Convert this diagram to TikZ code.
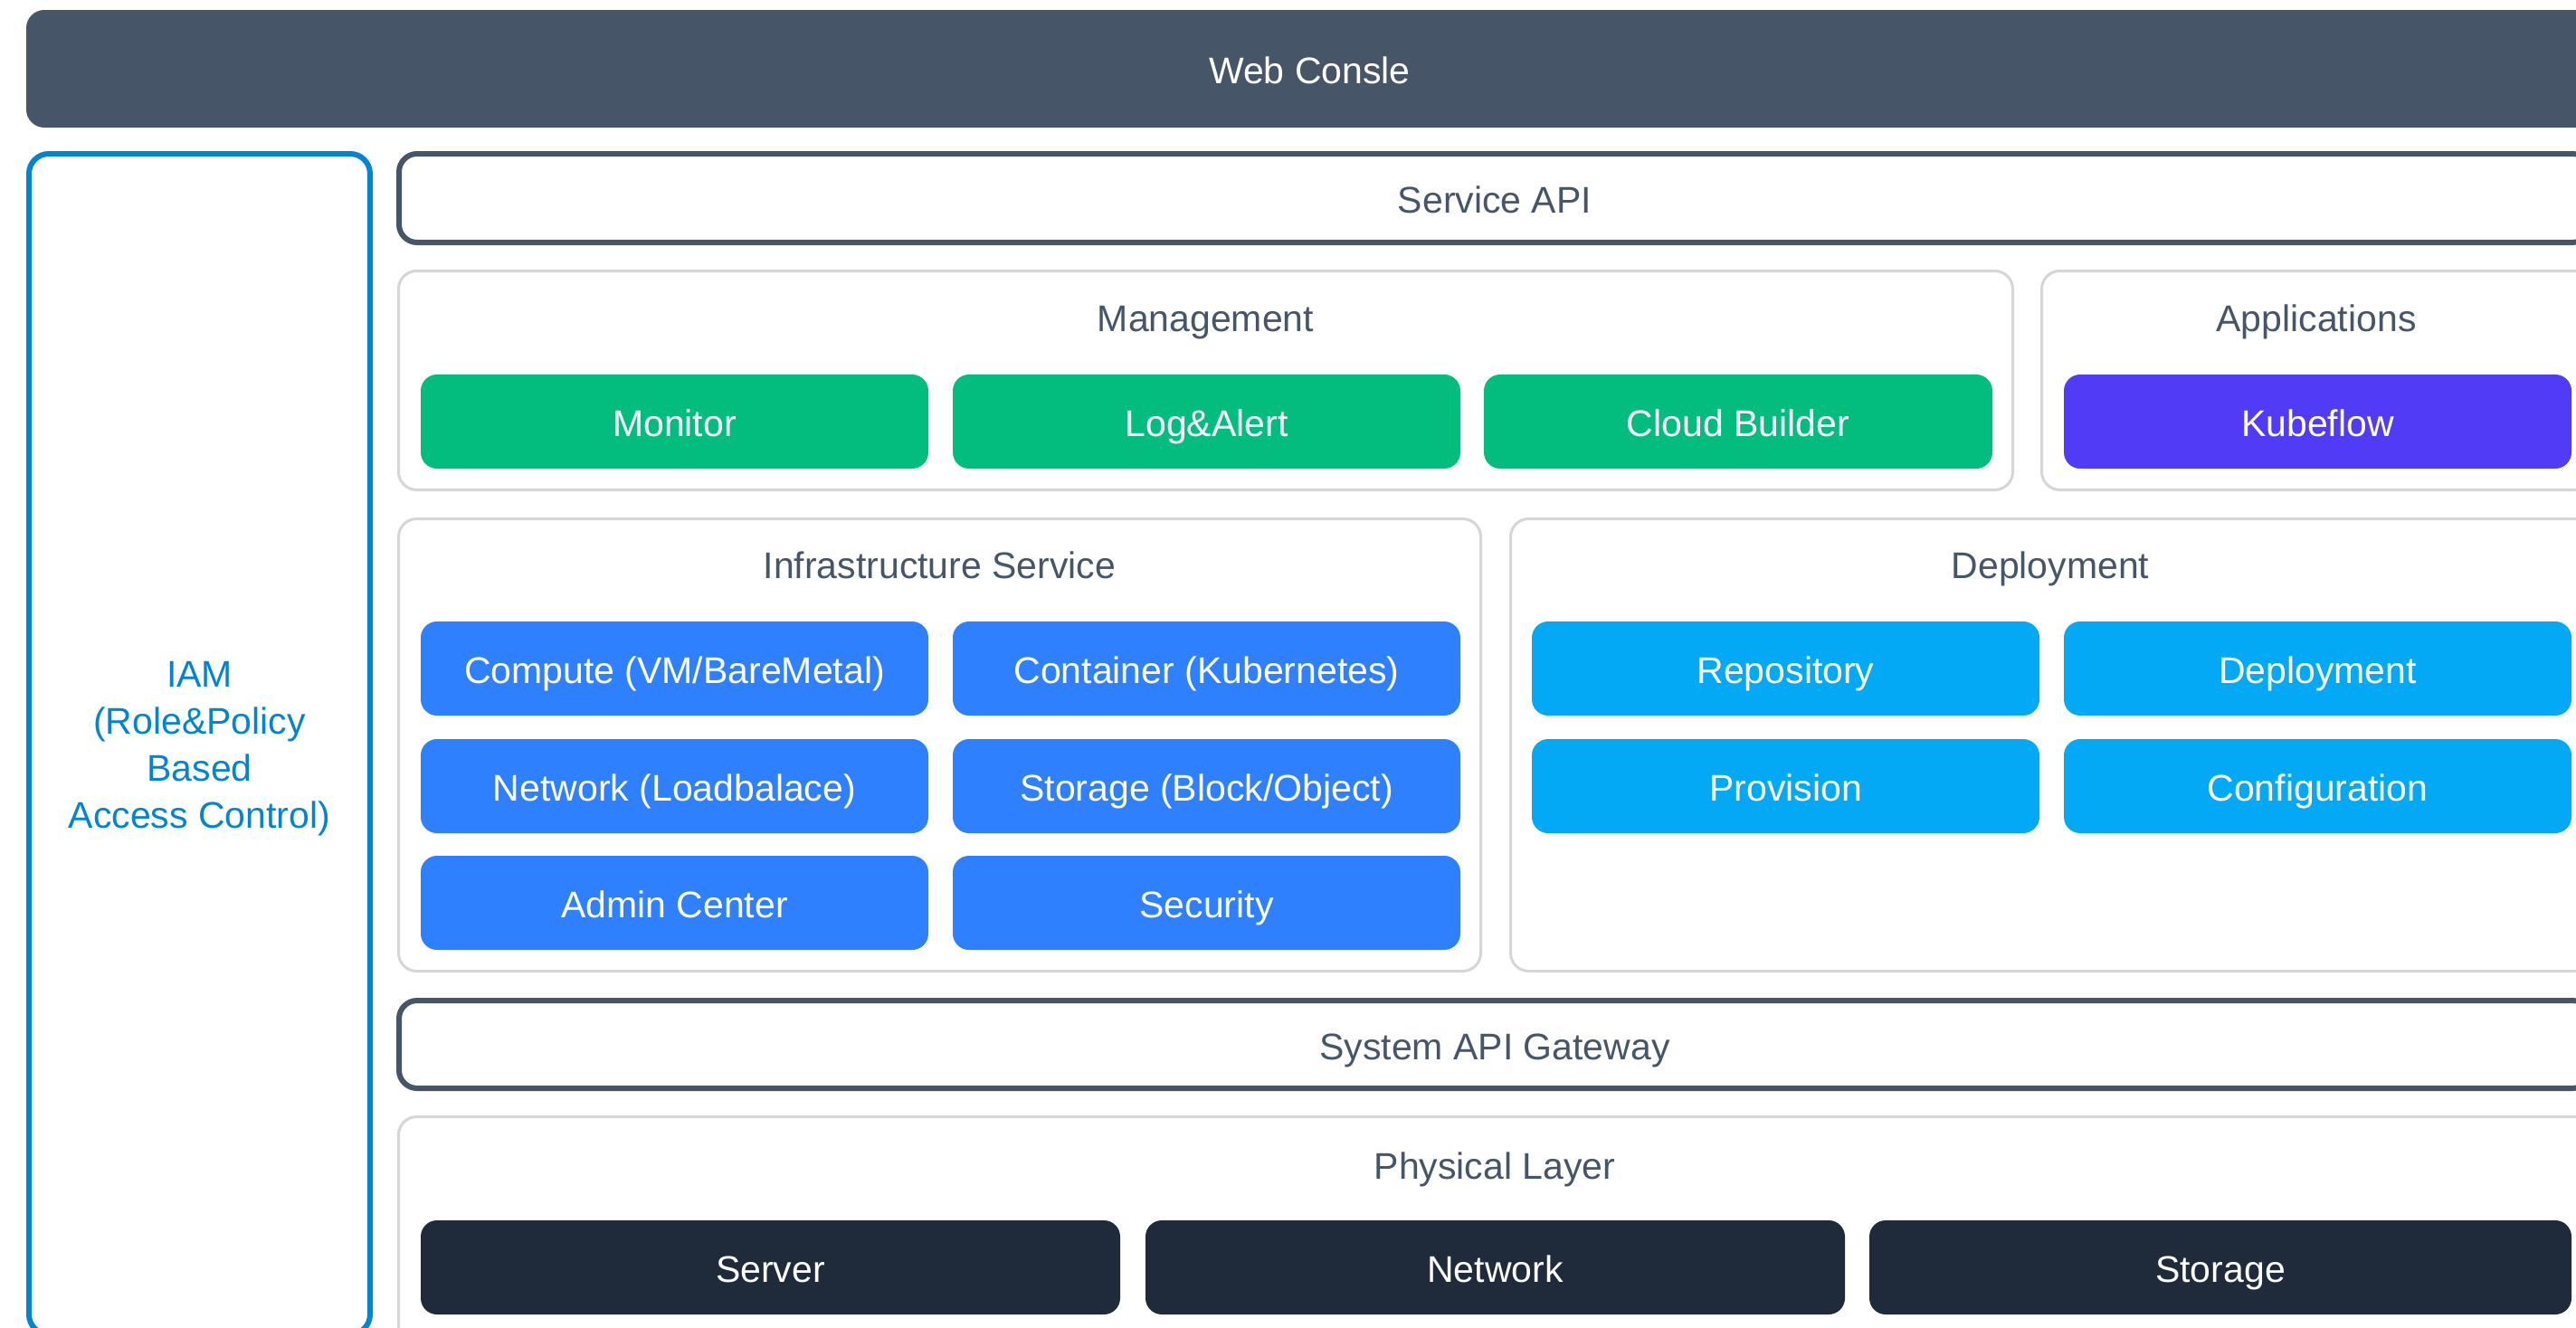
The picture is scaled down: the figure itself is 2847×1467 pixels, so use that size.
\documentclass[tikz,border=0pt]{standalone}
\usepackage{fontspec}
\setmainfont{Liberation Sans}
\definecolor{slate}{HTML}{475569}
\definecolor{iamblue}{HTML}{0284D4}
\definecolor{lightgray}{HTML}{D6D6D6}
\definecolor{mgreen}{HTML}{03BD7F}
\definecolor{kpurple}{HTML}{503BF6}
\definecolor{iblue}{HTML}{2F80FE}
\definecolor{dsky}{HTML}{03A9F4}
\definecolor{pdark}{HTML}{1F2A3B}
\newcommand\blk[7]{\node[#6, minimum width={#4-#2}, minimum height={#5-#3}] (#1) at ({(#2+#4)/2},{(#3+#5)/2}) {#7};}
\begin{document}
\begin{tikzpicture}[x=1pt,y=-1pt,
  every node/.style={inner sep=0pt, outer sep=0pt, font=\fontsize{41}{52}\selectfont},
  webbar/.style={rectangle, fill=slate, rounded corners=20pt, text=white, text height=33pt, text depth=0pt},
  iambox/.style={rectangle, draw=iamblue, line width=6pt, rounded corners=22pt},
  apibox/.style={rectangle, draw=slate, line width=6pt, rounded corners=20pt, text=slate, text height=33pt, text depth=0pt},
  group/.style={rectangle, draw=lightgray, line width=3pt, rounded corners=20pt},
  heading/.style={text=slate, text height=33pt, text depth=0pt},
  btn/.style={rectangle, rounded corners=18pt, text=white, text height=33pt, text depth=0pt},
  greenbtn/.style={btn, fill=mgreen},
  purplebtn/.style={btn, fill=kpurple},
  bluebtn/.style={btn, fill=iblue},
  skybtn/.style={btn, fill=dsky},
  darkbtn/.style={btn, fill=pdark}]
\useasboundingbox (0,0) rectangle (2847,1467);
\clip (0,0) rectangle (2847,1467);
\fill[white] (0,0) rectangle (2847,1467);
% top bar
\blk{web}{29}{11}{2866}{141}{webbar}{Web Consle}
% IAM
\blk{iam}{32}{170}{409}{1475}{iambox}{}
\node[text=iamblue, align=center] (iamtext) at (220.5,828) {IAM\\(Role\&Policy\\Based\\Access Control)};
% Service API
\blk{sapi}{441}{170}{2863}{268}{apibox}{Service API}
% Management
\blk{mgmt}{440.5}{299.5}{2224.5}{541.5}{group}{}
\node[heading] (mgmth) at (1332.5,350) {Management};
\blk{monitor}{465}{414}{1026}{518}{greenbtn}{Monitor}
\blk{logalert}{1053}{414}{1614}{518}{greenbtn}{Log\&Alert}
\blk{cloudb}{1640}{414}{2202}{518}{greenbtn}{Cloud Builder}
% Applications
\blk{apps}{2256.5}{299.5}{2864.5}{541.5}{group}{}
\node[heading] (appsh) at (2560,350) {Applications};
\blk{kubeflow}{2281}{414}{2842}{518}{purplebtn}{Kubeflow}
% Infrastructure Service
\blk{infra}{440.5}{573.5}{1636.5}{1073.5}{group}{}
\node[heading] (infrah) at (1038.5,623) {Infrastructure Service};
\blk{compute}{465}{687}{1026}{791}{bluebtn}{Compute (VM/BareMetal)}
\blk{container}{1053}{687}{1614}{791}{bluebtn}{Container (Kubernetes)}
\blk{inet}{465}{817}{1026}{921}{bluebtn}{Network (Loadbalace)}
\blk{istor}{1053}{817}{1614}{921}{bluebtn}{Storage (Block/Object)}
\blk{admin}{465}{946}{1026}{1050}{bluebtn}{Admin Center}
\blk{security}{1053}{946}{1614}{1050}{bluebtn}{Security}
% Deployment
\blk{deploy}{1669.5}{573.5}{2864.5}{1073.5}{group}{}
\node[heading] (deployh) at (2266,623) {Deployment};
\blk{repo}{1693}{687}{2254}{791}{skybtn}{Repository}
\blk{deploybtn}{2281}{687}{2842}{791}{skybtn}{Deployment}
\blk{provision}{1693}{817}{2254}{921}{skybtn}{Provision}
\blk{config}{2281}{817}{2842}{921}{skybtn}{Configuration}
% System API Gateway
\blk{sysapi}{441}{1106}{2863}{1203}{apibox}{System API Gateway}
% Physical Layer
\blk{phys}{440.5}{1234.5}{2864.5}{1520}{group}{}
\node[heading] (physh) at (1652,1287) {Physical Layer};
\blk{server}{465}{1349}{1238}{1453}{darkbtn}{Server}
\blk{network}{1266}{1349}{2039}{1453}{darkbtn}{Network}
\blk{storage}{2066}{1349}{2842}{1453}{darkbtn}{Storage}
\end{tikzpicture}
\end{document}
